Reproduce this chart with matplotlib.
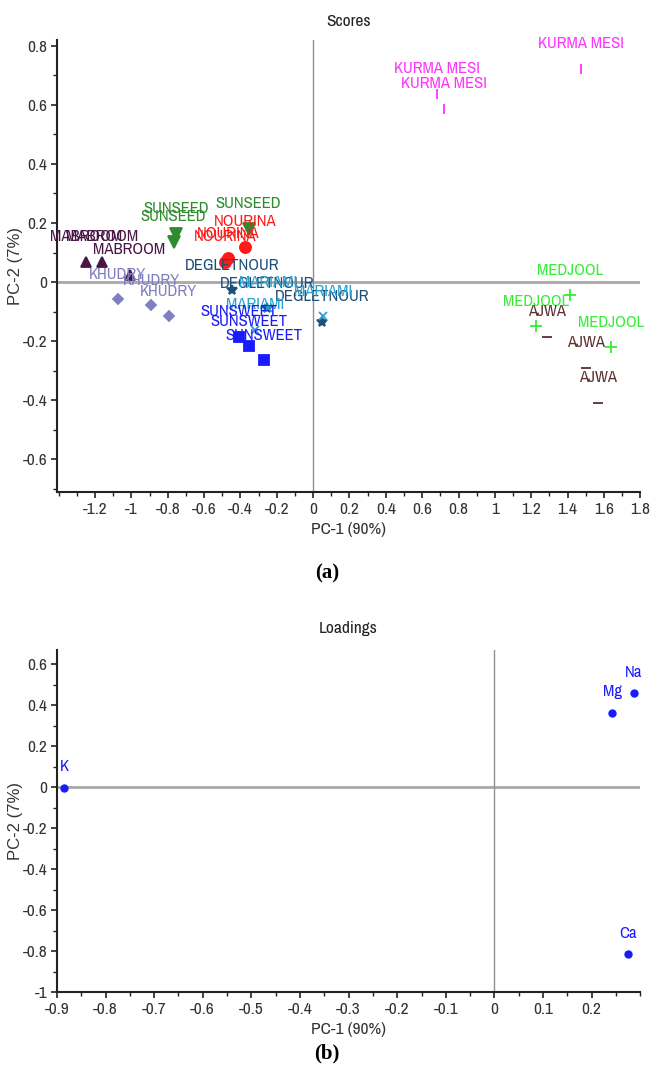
import matplotlib
matplotlib.use('Agg')
import matplotlib.pyplot as plt
from matplotlib.ticker import MultipleLocator
from matplotlib import font_manager

# scores (PC-1, PC-2) per date variety
mabroom_x = [-1.25, -1.16, -1.01]
mabroom_y = [0.069, 0.069, 0.024]
khudry_x = [-1.075, -0.89, -0.795]
khudry_y = [-0.058, -0.078, -0.115]
sunseed_x = [-0.753, -0.768, -0.355]
sunseed_y = [0.164, 0.136, 0.181]
nourina_x = [-0.485, -0.47, -0.374]
nourina_y = [0.068, 0.080, 0.119]
degletnour_x = [-0.447, -0.255, 0.048]
degletnour_y = [-0.027, -0.089, -0.134]
mariami_x = [-0.25, 0.053, -0.319]
mariami_y = [-0.087, -0.115, -0.162]
sunsweet_x = [-0.41, -0.355, -0.273]
sunsweet_y = [-0.185, -0.218, -0.264]
kurma_x = [0.683, 0.72, 1.476]
kurma_y = [0.637, 0.587, 0.722]
medjool_x = [1.412, 1.224, 1.637]
medjool_y = [-0.044, -0.149, -0.221]
ajwa_x = [1.287, 1.50, 1.568]
ajwa_y = [-0.185, -0.29, -0.408]

# loadings
elements = ['K', 'Mg', 'Na', 'Ca']
load_x = [-0.885, 0.242, 0.287, 0.274]
load_y = [-0.003, 0.363, 0.459, -0.815]

groups = [
    ('MABROOM', mabroom_x, mabroom_y, '#4a1446', '^', 7),
    ('KHUDRY', khudry_x, khudry_y, '#8080c0', 'D', 5.5),
    ('SUNSEED', sunseed_x, sunseed_y, '#2e8b2e', 'v', 8),
    ('NOURINA', nourina_x, nourina_y, '#ff1a1a', 'o', 8),
    ('DEGLETNOUR', degletnour_x, degletnour_y, '#1f4e79', '*', 7),
    ('MARIAMI', mariami_x, mariami_y, '#2aa0d0', 'x', 6),
    ('SUNSWEET', sunsweet_x, sunsweet_y, '#1a1aff', 's', 7),
    ('KURMA MESI', kurma_x, kurma_y, '#ff33ff', '|', 7),
    ('MEDJOOL', medjool_x, medjool_y, '#33ee33', '+', 8),
    ('AJWA', ajwa_x, ajwa_y, '#5c2e2e', '_', 7),
]

# look for a narrow face among the installed fonts
names = sorted({f.name for f in font_manager.fontManager.ttflist})
narrow_name = None
for n in names:
    if 'Narrow' in n or 'Condensed' in n:
        narrow_name = n
        break
narrow = [narrow_name, 'DejaVu Sans'] if narrow_name else ['DejaVu Sans']
plt.rcParams['font.family'] = narrow
plt.rcParams['font.stretch'] = 'condensed'

fig = plt.figure(figsize=(6.54, 10.74), dpi=100)
ax1 = fig.add_axes([0.087, 0.542, 0.892, 0.421])
ax2 = fig.add_axes([0.087, 0.0763, 0.892, 0.3187])


def style_axes(ax):
    for s in ['top', 'right']:
        ax.spines[s].set_visible(False)
    for s in ['left', 'bottom']:
        ax.spines[s].set_linewidth(1.5)
        ax.spines[s].set_color('#222222')
    ax.tick_params(which='major', length=4, width=1.2, labelsize=12.5, color='#222222', labelcolor='#333333', pad=3)
    ax.tick_params(which='minor', length=3, width=1.0, color='#222222')
    ax.axhline(0, color='#a8a8a8', lw=2, zorder=0)
    ax.axvline(0, color='#909090', lw=1, zorder=0)
    ax.set_xlabel('PC-1 (90%)', fontsize=12.5, color='#333333', labelpad=4)
    ax.set_ylabel('PC-2 (7%)', fontsize=12, color='#333333', family=['Liberation Sans', 'DejaVu Sans'],
                  fontstretch='normal')
    ax.yaxis.set_label_coords(-0.058, 0.5)


# Scores
for name, xs, ys, col, mk, ms in groups:
    ax1.plot(xs, ys, ls='none', marker=mk, color=col, ms=ms, mew=1.3)
    for x, y in zip(xs, ys):
        ax1.annotate(name, (x, y), xytext=(0, 18), textcoords='offset points',
                     ha='center', va='center', fontsize=12, color=col)

ax1.set_xlim(-1.41, 1.8)
ax1.set_ylim(-0.71, 0.82)
ax1.xaxis.set_minor_locator(MultipleLocator(0.1))
ax1.yaxis.set_minor_locator(MultipleLocator(0.1))
ax1.set_xticks([-1.2, -1, -0.8, -0.6, -0.4, -0.2, 0, 0.2, 0.4, 0.6, 0.8, 1, 1.2, 1.4, 1.6, 1.8])
ax1.set_xticklabels(['-1.2', '-1', '-0.8', '-0.6', '-0.4', '-0.2', '0', '0.2', '0.4', '0.6', '0.8', '1', '1.2', '1.4', '1.6', '1.8'])
ax1.set_yticks([-0.6, -0.4, -0.2, 0, 0.2, 0.4, 0.6, 0.8])
ax1.set_yticklabels(['-0.6', '-0.4', '-0.2', '0', '0.2', '0.4', '0.6', '0.8'])
style_axes(ax1)
ax1.set_title('Scores', fontsize=12.5, color='#222222', pad=10)

# Loadings
ax2.plot(load_x, load_y, ls='none', marker='o', color='#1a1aff', ms=5)
for lab, x, y in zip(elements, load_x, load_y):
    ax2.annotate(lab, (x, y), xytext=(0, 15), textcoords='offset points',
                 ha='center', va='center', fontsize=12, color='#1a1aff')

ax2.set_xlim(-0.9, 0.3)
ax2.set_ylim(-1.0, 0.67)
ax2.xaxis.set_minor_locator(MultipleLocator(0.05))
ax2.yaxis.set_minor_locator(MultipleLocator(0.1))
ax2.set_xticks([-0.9, -0.8, -0.7, -0.6, -0.5, -0.4, -0.3, -0.2, -0.1, 0, 0.1, 0.2])
ax2.set_xticklabels(['-0.9', '-0.8', '-0.7', '-0.6', '-0.5', '-0.4', '-0.3', '-0.2', '-0.1', '0', '0.1', '0.2'])
ax2.set_yticks([-1, -0.8, -0.6, -0.4, -0.2, 0, 0.2, 0.4, 0.6])
ax2.set_yticklabels(['-1', '-0.8', '-0.6', '-0.4', '-0.2', '0', '0.2', '0.4', '0.6'])
style_axes(ax2)
ax2.set_title('Loadings', fontsize=12.5, color='#222222', pad=12)

serif = ['Liberation Serif', 'DejaVu Serif']
fig.text(0.5, 1 - 573 / 1074, '(a)', ha='center', va='center', fontsize=15, fontweight='bold',
         family=serif, fontstretch='normal')
fig.text(0.5, 1 - 1053 / 1074, '(b)', ha='center', va='center', fontsize=15, fontweight='bold',
         family=serif, fontstretch='normal')

fig.savefig('out.png', dpi=100)
